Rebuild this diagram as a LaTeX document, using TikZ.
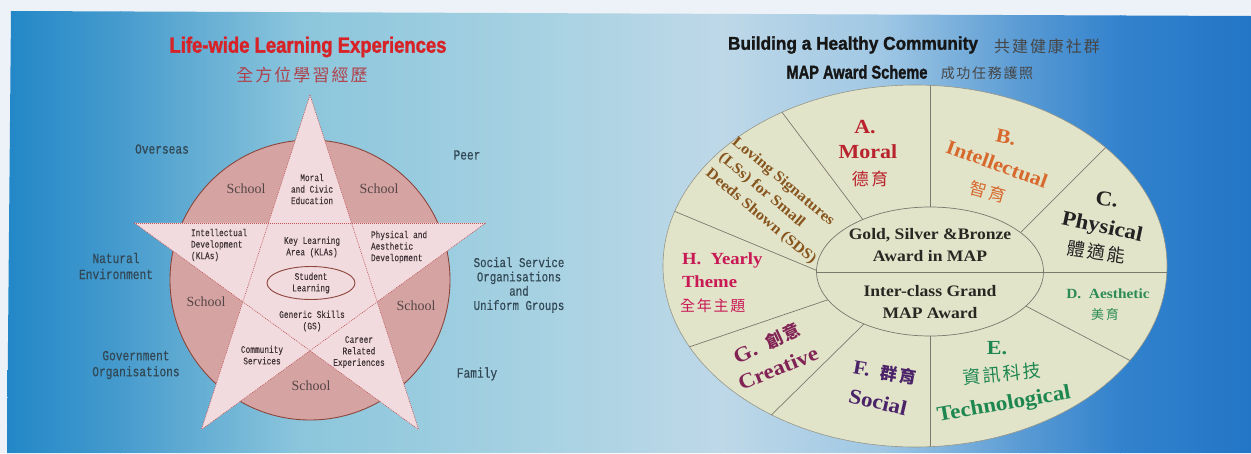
\documentclass[tikz,border=0pt]{standalone}
\usepackage{fontspec}
\setmainfont{Liberation Serif}
\newfontfamily\monof[FakeStretch=0.8,FakeBold=0.4]{Liberation Mono}
\newfontfamily\monos[FakeStretch=0.78,FakeBold=0.3]{Liberation Mono}
\newfontfamily\sansb[FakeBold=1.6]{Liberation Sans}
\newfontfamily\cjk[LetterSpace=12]{Noto Sans CJK TC}
\newfontfamily\sectf[FakeStretch=1.1]{Liberation Serif}
\usetikzlibrary{shapes.geometric}
\newcommand\myfs[2]{\fontsize{#1}{#2}\selectfont}
\definecolor{pagewhite}{RGB}{236,242,247}
\definecolor{bga}{RGB}{32,134,199}
\definecolor{bgb}{RGB}{70,155,205}
\definecolor{bgc}{RGB}{140,198,220}
\definecolor{bgd}{RGB}{168,210,226}
\definecolor{bge}{RGB}{190,216,232}
\definecolor{bgf}{RGB}{160,200,228}
\definecolor{bgg}{RGB}{90,155,212}
\definecolor{bgh}{RGB}{50,130,205}
\definecolor{bgi}{RGB}{35,118,198}
\definecolor{circfill}{RGB}{214,163,163}
\definecolor{circline}{RGB}{140,70,60}
\definecolor{starfill}{RGB}{241,219,223}
\definecolor{starline}{RGB}{190,85,85}
\definecolor{lblcol}{RGB}{50,72,85}
\definecolor{starcol}{RGB}{65,52,56}
\definecolor{schoolcol}{RGB}{85,70,70}
\definecolor{titlered}{RGB}{215,35,40}
\definecolor{cjkred}{RGB}{175,65,75}
\definecolor{titleblk}{RGB}{22,22,22}
\definecolor{cjkgray}{RGB}{70,70,70}
\definecolor{ellfill}{RGB}{226,228,202}
\definecolor{ellline}{RGB}{150,150,135}
\definecolor{divline}{RGB}{125,120,110}
\definecolor{colA}{RGB}{185,35,45}
\definecolor{colB}{RGB}{215,105,45}
\definecolor{colC}{RGB}{35,35,35}
\definecolor{colD}{RGB}{45,140,85}
\definecolor{colE}{RGB}{30,135,80}
\definecolor{colF}{RGB}{75,35,105}
\definecolor{colG}{RGB}{130,35,85}
\definecolor{colH}{RGB}{200,25,85}
\definecolor{colL}{RGB}{135,85,30}
\definecolor{colIn}{RGB}{40,40,35}
\begin{document}
\begin{tikzpicture}[x=1pt,y=-1pt,
  every node/.style={inner sep=0pt, outer sep=0pt},
  outerlbl/.style={font=\monof\myfs{14}{16}, text=lblcol, align=center},
  starlbl/.style={font=\monos\myfs{10}{11.5}, text=starcol, align=center},
  schoollbl/.style={font=\myfs{14}{16}, text=schoolcol},
  sect/.style={font=\sectf\bfseries\myfs{#1}{#1}, align=center},
  sect/.default=20,
  sectcjk/.style={font=\cjk\myfs{#1}{#1}},
  sectcjk/.default=17,
  divider/.style={draw=divline, line width=0.7pt},
  pentaline/.style={draw=starline, line width=0.6pt, dash pattern=on 1pt off 1pt}]
\useasboundingbox (0,0) rectangle (1251,453);
% background
\fill[pagewhite] (0,0) rectangle (1251,453);
\begin{scope}
\clip (11,11) -- (1251,16) -- (1251,453) -- (7,453) -- cycle;
\shade[left color=bga,right color=bgb] (-1,0) rectangle (121,453);
\shade[left color=bgb,right color=bgc] (120,0) rectangle (301,453);
\shade[left color=bgc,right color=bgd] (300,0) rectangle (551,453);
\shade[left color=bgd,right color=bge] (550,0) rectangle (721,453);
\shade[left color=bge,right color=bgf] (720,0) rectangle (881,453);
\shade[left color=bgf,right color=bgg] (880,0) rectangle (1021,453);
\shade[left color=bgg,right color=bgh] (1020,0) rectangle (1121,453);
\shade[left color=bgh,right color=bgi] (1120,0) rectangle (1252,453);
\end{scope}

% ---------- left diagram ----------
\node (ltitle) at (308,47) {\resizebox{277pt}{\height}{\sansb\bfseries\myfs{22}{22}\color{titlered}Life-wide Learning Experiences}};
\node (lcjk) at (302,75) [font=\cjk\myfs{17}{17}, text=cjkred] {全方位學習經歷};

\coordinate (cc) at (310,280);
\draw[draw=circline, fill=circfill, line width=0.9pt] (cc) circle [radius=140pt];

\coordinate (sT) at (310,95);
\coordinate (sUR) at (485.9,222.8);
\coordinate (sLR) at (418.7,429.7);
\coordinate (sLL) at (201.3,429.7);
\coordinate (sUL) at (134.1,222.8);
\coordinate (iUR) at (351.5,222.8);
\coordinate (iR) at (377.2,301.8);
\coordinate (iB) at (310,350.7);
\coordinate (iL) at (242.8,301.8);
\coordinate (iUL) at (268.5,222.8);
\fill[starfill] (sT) -- (iUR) -- (sUR) -- (iR) -- (sLR) -- (iB) -- (sLL) -- (iL) -- (sUL) -- (iUL) -- cycle;
\draw[pentaline] (sT) -- (sLL);
\draw[pentaline] (sT) -- (sLR);
\draw[pentaline] (sUL) -- (sUR);
\draw[pentaline] (sUL) -- (sLR);
\draw[pentaline] (sUR) -- (sLL);

\node (school1) at (246,189) [schoollbl] {School};
\node (school2) at (379,189) [schoollbl] {School};
\node (school3) at (206,302) [schoollbl] {School};
\node (school4) at (416,306) [schoollbl] {School};
\node (school5) at (311,386) [schoollbl] {School};

\node (moral) at (312,189) [starlbl] {Moral\\and Civic\\Education};
\node (intel) at (191,245) [starlbl, anchor=west, align=left] {Intellectual\\Development\\(KLAs)};
\node (kla) at (312,247) [starlbl] {Key Learning\\Area (KLAs)};
\node (phys) at (371,247) [starlbl, anchor=west, align=left] {Physical and\\Aesthetic\\Development};
\node (stud) at (311,283) [starlbl, ellipse, draw=circline, line width=0.9pt, minimum width=88pt, minimum height=33pt, inner sep=0pt] {Student\\Learning};
\node (gs) at (312,321) [starlbl] {Generic Skills\\(GS)};
\node (comm) at (262,355) [starlbl] {Community\\Services};
\node (career) at (359,352) [starlbl] {Career\\Related\\Experiences};

\node (overseas) at (162,149) [outerlbl] {Overseas};
\node (peer) at (467,155) [outerlbl] {Peer};
\node (natural) at (116,266) [outerlbl] {Natural\\Environment};
\node (social) at (519,285) [outerlbl, font=\monof\myfs{13.5}{14.3}] {Social Service\\Organisations\\and\\Uniform Groups};
\node (gov) at (136,365) [outerlbl] {Government\\Organisations};
\node (family) at (477,374) [outerlbl] {Family};

% ---------- right diagram ----------
\node (rtitle) at (853,45) {\resizebox{250pt}{\height}{\sansb\bfseries\myfs{18.5}{18.5}\color{titleblk}Building a Healthy Community}};
\node (rcjk) at (1047,46) [font=\cjk\myfs{16}{16}, text=cjkgray] {共建健康社群};
\node (rtitle2) at (857,72) {\resizebox{141pt}{\height}{\sansb\bfseries\myfs{18.5}{18.5}\color{titleblk}MAP Award Scheme}};
\node (rcjk2) at (987,73) [font=\cjk\myfs{14}{14}, text=cjkgray] {成功任務護照};

\coordinate (oc) at (915,266);
\coordinate (ic) at (930,271.5);
\draw[draw=ellline, fill=ellfill, line width=0.6pt] (oc) ellipse [x radius=252pt, y radius=181pt];
\begin{scope}
\clip (oc) ellipse [x radius=252pt, y radius=181pt];
\coordinate (d1a) at (870,229); \coordinate (d1b) at (766,91);
\coordinate (d2a) at (930,240); \coordinate (d2b) at (930,60);
\coordinate (d3a) at (1013,240); \coordinate (d3b) at (1125,128);
\coordinate (d5a) at (1020,303); \coordinate (d5b) at (1150,371);
\coordinate (d6a) at (930,300); \coordinate (d6b) at (930,470);
\coordinate (d7a) at (870,318); \coordinate (d7b) at (752,434);
\coordinate (d8a) at (836,297); \coordinate (d8b) at (645,362);
\coordinate (d9a) at (830,276); \coordinate (d9b) at (645,199);
\draw[divider] (d1a) -- (d1b);
\draw[divider] (d2a) -- (d2b);
\draw[divider] (d3a) -- (d3b);
\draw[divider] (d5a) -- (d5b);
\draw[divider] (d6a) -- (d6b);
\draw[divider] (d7a) -- (d7b);
\draw[divider] (d8a) -- (d8b);
\draw[divider] (d9a) -- (d9b);
\draw[draw=ellline!80!black, fill=ellfill, line width=0.7pt] (ic) ellipse [x radius=113.5pt, y radius=64.5pt];
\coordinate (hl) at (816.5,272);
\coordinate (hr) at (1180,272);
\draw[divider] (hl) -- (hr);
\end{scope}

% inner texts
\node (gold) at (930,235) [sect=16, text=colIn] {Gold, Silver \&Bronze};
\node (awmap) at (930,256) [sect=16, text=colIn] {Award in MAP};
\node (inter) at (930,291) [sect=16, text=colIn] {Inter-class Grand};
\node (mapaw) at (930,313) [sect=16, text=colIn] {MAP Award};

% A
\node (aA) at (865,127) [sect=20, text=colA] {A.};
\node (aMoral) at (868,152) [sect=20, text=colA] {Moral};
\node (aCjk) at (870,179) [sectcjk=17, text=colA] {德育};
% B
\node (bB) at (1006,137) [sect=20, text=colB, rotate=-12] {B.};
\node (bInt) at (997,164) [sect=20, text=colB, rotate=-20] {Intellectual};
\node (bCjk) at (988,192) [sectcjk=17, text=colB, rotate=-15] {智育};
% C
\node (cC) at (1107,199) [sect=21, text=colC, rotate=-8] {C.};
\node (cPhys) at (1102,228) [sect=21, text=colC, rotate=-12] {Physical};
\node (cCjk) at (1096,252) [sectcjk=18, text=colC, rotate=-8] {體適能};
% D
\node (dD) at (1108,294) [sect=14, text=colD] {D.\ \ Aesthetic};
\node (dCjk) at (1105,315) [sectcjk=13, text=colD] {美育};
% E
\node (eE) at (997,348) [sect=20, text=colE] {E.};
\node (eCjk) at (1002,374) [sectcjk=18, text=colE, rotate=5] {資訊科技};
\node (eTech) at (1004,405) [sect=21, text=colE, rotate=10] {Technological};
% F
\node (fF) at (885,373) [sect=20, text=colF, rotate=-10] {F.\ \ {\cjk\myfs{17}{17}群育}};
\node (fSoc) at (878,402) [sect=21, text=colF, rotate=-13] {Social};
% G
\node (gG) at (767,343) [sect=21, text=colG, rotate=25] {G.\ \ {\cjk\myfs{17}{17}創意}};
\node (gCre) at (778,368) [sect=21, text=colG, rotate=22] {Creative};
% H
\node (hH) at (682,260) [sect=17, text=colH, anchor=west] {H.\ \ Yearly};
\node (hTh) at (682,282) [sect=17, text=colH, anchor=west] {Theme};
\node (hCjk) at (680,306) [sectcjk=15, text=colH, anchor=west] {全年主題};
% LSs
\node (lss) at (774,201) [font=\sectf\bfseries\myfs{15}{20.5}, text=colL, align=left, rotate=-40] {Loving Signatures\\(LSs) for Small\\Deeds Shown (SDS)};
\end{tikzpicture}
\end{document}
